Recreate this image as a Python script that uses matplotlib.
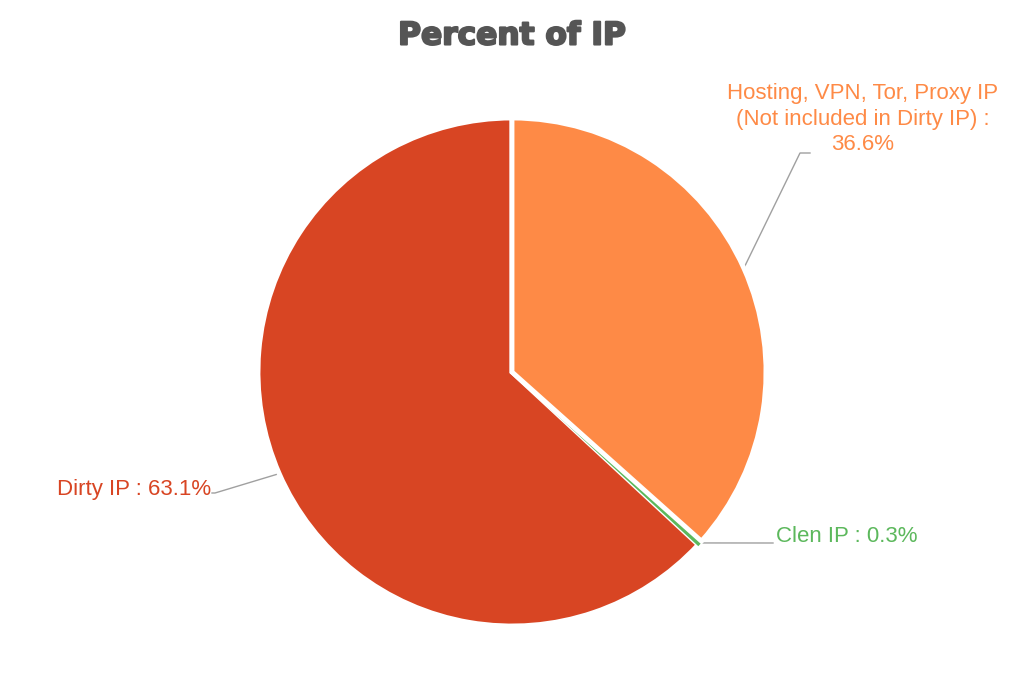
import matplotlib.pyplot as plt
import matplotlib.patheffects as pe
import numpy as np

categorias = ['Hosting, VPN, Tor, Proxy IP\n(Not included in Dirty IP) :\n36.6%', 'Clen IP : 0.3%', 'Dirty IP : 63.1%']
valores = [36.6, 0.3, 63.1]
cores = ['#FE8A46', '#5CB85C', '#D84523']

fig = plt.figure(figsize=(10.24, 6.83), dpi=100)
ax = fig.add_axes([0, 0, 1, 1])

cx, cy, r = 512, 311, 254
fatias, _ = ax.pie(valores, colors=cores, startangle=90, counterclock=False,
                   center=(cx, cy), radius=r, frame=True,
                   wedgeprops=dict(edgecolor='white', linewidth=3.5))
# ordem de desenho: vermelho, verde, laranja
fatias[2].set_zorder(1)
fatias[1].set_zorder(2)
fatias[1].set_edgecolor(cores[1])
fatias[1].set_linewidth(1.5)
fatias[0].set_zorder(3)

ax.set_xlim(0, 1024)
ax.set_ylim(0, 683)
ax.set_aspect('equal')
ax.axis('off')

# posições dos rótulos (pixels, y invertido)
pos_texto = [(863, 683 - 119), (776, 683 - 537), (211, 683 - 489)]
cotovelo = [(800, 683 - 153), (773, 683 - 543), (215, 683 - 493)]
fim_linha = [(810, 683 - 153), (773, 683 - 543), (212, 683 - 493)]
alinhamento = ['center', 'left', 'right']

for fatia, rotulo, cor, pt, cot, fim, ha in zip(fatias, categorias, cores, pos_texto, cotovelo, fim_linha, alinhamento):
    ang = np.deg2rad((fatia.theta1 + fatia.theta2) / 2)
    x0 = cx + r * np.cos(ang)
    y0 = cy + r * np.sin(ang)
    ax.plot([x0, cot[0], fim[0]], [y0, cot[1], fim[1]], color='#A0A0A0', lw=1, zorder=0)
    ax.text(pt[0], pt[1], rotulo, color=cor, fontsize=16, ha=ha, va='center',
            family='Liberation Sans', linespacing=1.3)

ax.text(512, 683 - 36, 'Percent of IP', fontsize=22.5, fontweight='bold', color='#555555',
        ha='center', va='center', family='DejaVu Sans',
        path_effects=[pe.withStroke(linewidth=1.5, foreground='#555555')])

fig.savefig('out.png', dpi=100)
